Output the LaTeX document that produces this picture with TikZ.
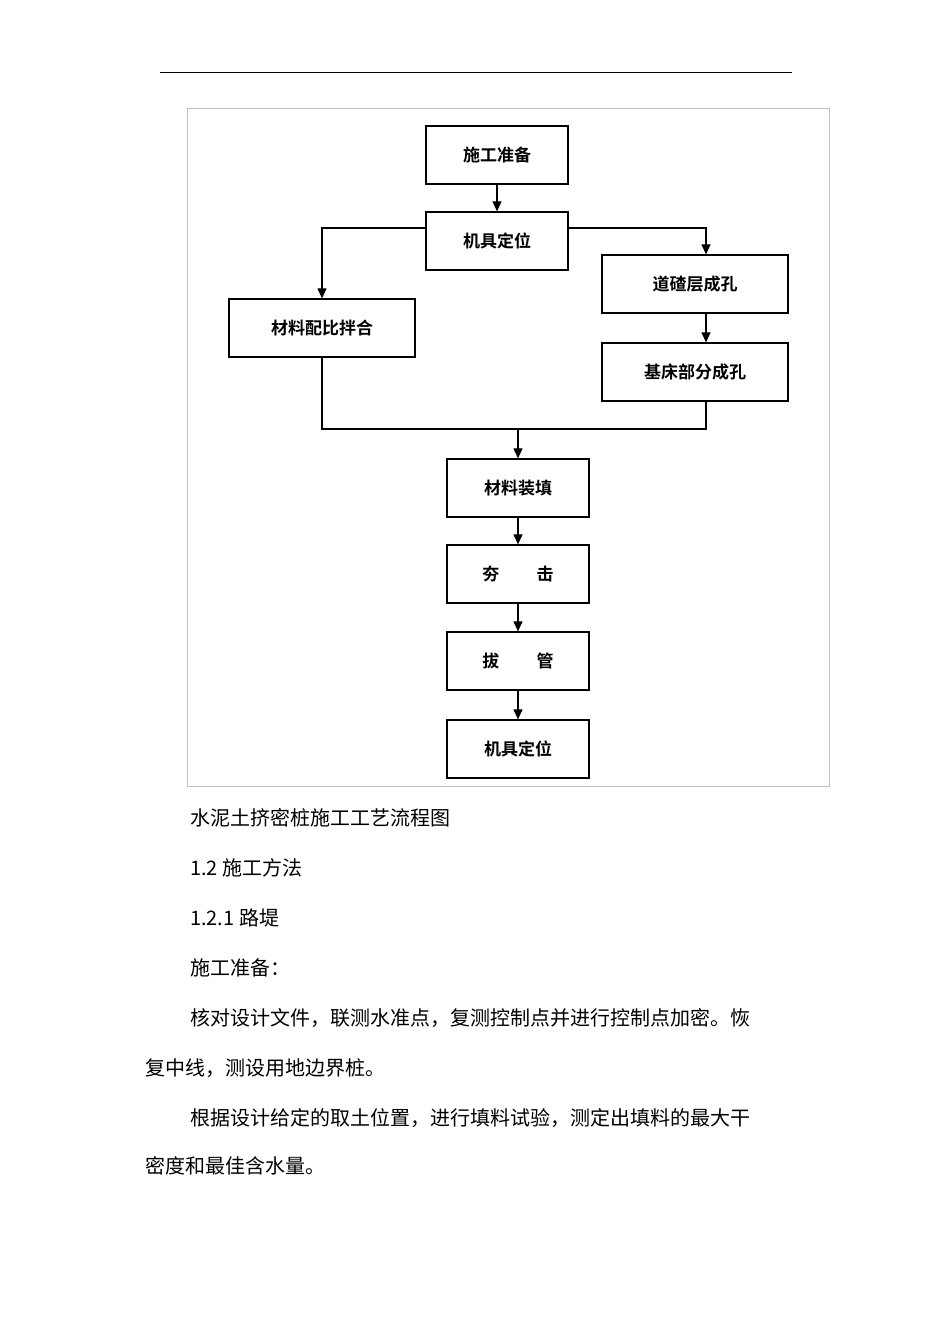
\documentclass[tikz,border=0pt]{standalone}
\usetikzlibrary{arrows.meta}
\usepackage{fontspec}
\setmainfont{Noto Sans CJK SC}
\newfontfamily\cjkb{Noto Sans CJK SC Bold}
\begin{document}
\begin{tikzpicture}[x=1pt,y=-1pt,
  box/.style={draw,line width=1.3pt,minimum width=142pt,minimum height=58pt,inner sep=0pt,font=\cjkb\fontsize{17}{17}\selectfont},
  wbox/.style={box,minimum width=186pt},
  ar/.style={line width=1.1pt,-{Triangle[width=9pt,length=10pt]}},
  ln/.style={line width=1.1pt},
  txt/.style={anchor=west,inner sep=0pt,font=\fontsize{20}{20}\selectfont}]
\useasboundingbox (0,0) rectangle (950,1344);
\fill[white] (0,0) rectangle (950,1344);
\draw[line width=1pt] (160,72) -- (792,72);
\draw[gray!50,line width=0.8pt] (187,108) rectangle (829,786);
\node[box] (a) at (497,155) {施工准备};
\node[box] (b) at (497,241) {机具定位};
\node[wbox] (c) at (322,328) {材料配比拌合};
\node[wbox] (d) at (695,284) {道碴层成孔};
\node[wbox] (e) at (695,372) {基床部分成孔};
\node[box] (f) at (518,488) {材料装填};
\node[box] (g) at (518,574) {夯\hspace{2.2em}击};
\node[box] (h) at (518,661) {拔\hspace{2.2em}管};
\node[box] (i) at (518,749) {机具定位};
\coordinate (bl) at (322,228);
\coordinate (br) at (706,228);
\coordinate (ml) at (322,429);
\coordinate (mr) at (706,429);
\coordinate (mm) at (518,429);
\draw[ar] (a) -- (b);
\draw[ar] (b.west |- bl) -- (bl) -- (bl |- c.north);
\draw[ar] (b.east |- br) -- (br) -- (br |- d.north);
\draw[ar] (br |- d.south) -- (br |- e.north);
\draw[ln] (c.south -| ml) -- (ml) -- (mr) -- (mr |- e.south);
\draw[ar] (mm) -- (f.north);
\draw[ar] (f) -- (g);
\draw[ar] (g) -- (h);
\draw[ar] (h) -- (i);
\node[txt] (t1) at (190,818) {水泥土挤密桩施工工艺流程图};
\node[txt] (t2) at (190,868) {1.2 施工方法};
\node[txt] (t3) at (190,918) {1.2.1 路堤};
\node[txt] (t4) at (190,968) {施工准备：};
\node[txt] (t5) at (190,1018) {核对设计文件，联测水准点，复测控制点并进行控制点加密。恢};
\node[txt] (t6) at (145,1068) {复中线，测设用地边界桩。};
\node[txt] (t7) at (190,1118) {根据设计给定的取土位置，进行填料试验，测定出填料的最大干};
\node[txt] (t8) at (145,1166) {密度和最佳含水量。};
\end{tikzpicture}
\end{document}
